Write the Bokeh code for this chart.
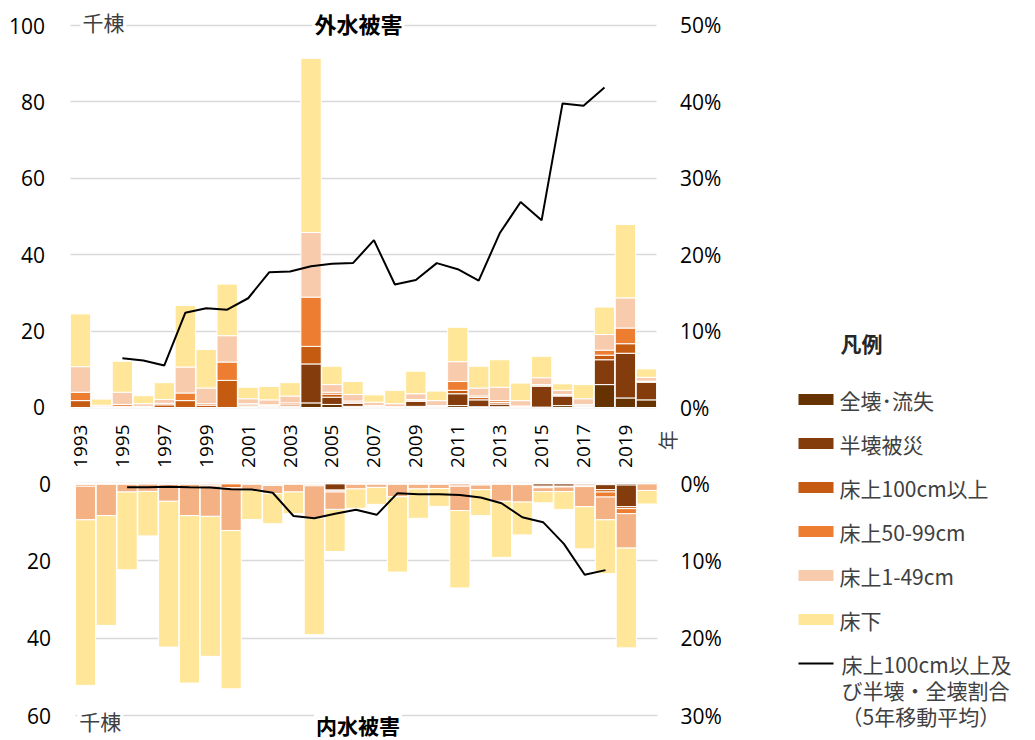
from math import pi
from bokeh.plotting import figure
from bokeh.models import (Range1d, LinearAxis, FixedTicker, PrintfTickFormatter,
                          Label, ColumnDataSource)
from bokeh.layouts import row, column
from bokeh.embed import file_html
from bokeh.resources import INLINE
from bokeh.core.properties import value

# ---------------- data ----------------
years = list(range(1993, 2021))
year_ticks = list(range(1993, 2021, 2))
keys = ["zenkai", "hankai", "f100", "f50", "f1", "yukashita"]
categories = ["全壊･流失", "半壊被災", "床上100cm以上", "床上50-99cm", "床上1-49cm", "床下"]
line_label = ["床上100cm以上及", "び半壊・全壊割合", "（5年移動平均）"]
legend_title = "凡例"
top_title = "外水被害"
bottom_title = "内水被害"
unit_label = "千棟"
x_title = "年"

# 外水被害 (thousand buildings)
ext_zenkai = [0, 0, 0, 0, 0, 0, 0, 0, 0.2, 0.1, 0.1, 1.2, 0.8, 0.3, 0.1, 0.05, 0.3, 0.1,
              0.5, 0.2, 0.2, 0.1, 0.1, 0.5, 0.2, 6.0, 2.5, 2.0]
ext_hankai = [0, 0, 0, 0, 0, 0, 0, 0, 0.2, 0.2, 0.2, 10.2, 1.9, 0.8, 0.1, 0.05, 1.3, 0.2,
              3.1, 1.8, 0.7, 0.1, 5.5, 2.5, 0.2, 6.5, 11.7, 4.6]
ext_f100 = [1.8, 0.1, 0.3, 0.2, 0.7, 1.8, 0.6, 7.1, 0.3, 0.2, 0.4, 4.6, 0.8, 0.3, 0.2, 0.05,
            0.3, 0.1, 0.9, 0.6, 0.4, 0.1, 0.1, 0.2, 0.2, 1.2, 2.5, 0.2]
ext_f50 = [2.2, 0.1, 0.5, 0.1, 0.4, 2.0, 0.4, 4.8, 0.3, 0.2, 0.5, 12.9, 0.5, 0.3, 0.1, 0.05,
           0.2, 0.1, 2.3, 0.4, 0.5, 0.1, 0.3, 0.2, 0.2, 1.3, 4.1, 0.1]
ext_f1 = [6.7, 0.4, 3.2, 0.7, 1.0, 6.8, 4.1, 6.9, 1.3, 1.3, 1.8, 16.9, 2.0, 1.7, 0.9, 0.8,
          1.5, 1.3, 5.2, 2.1, 3.5, 1.4, 1.8, 1.1, 1.5, 4.1, 7.9, 1.0]
ext_yukashita = [13.8, 1.6, 8.1, 2.1, 4.4, 16.1, 10.1, 13.5, 3.0, 3.5, 3.5, 45.6, 4.8, 3.4,
                 1.9, 3.5, 5.9, 2.5, 9.0, 5.7, 7.2, 4.6, 5.6, 1.7, 3.7, 7.2, 19.2, 2.2]

# 内水被害 (thousand buildings)
int_zenkai = [0, 0, 0, 0, 0, 0, 0, 0, 0, 0, 0, 0, 0.1, 0, 0, 0, 0, 0, 0, 0, 0, 0, 0.1, 0.1,
              0.1, 0.3, 0.4, 0]
int_hankai = [0, 0, 0, 0, 0, 0, 0, 0, 0, 0, 0, 0, 1.6, 0, 0, 0, 0, 0, 0, 0, 0, 0, 0.6, 0.6,
              0.3, 1.3, 5.6, 0]
int_f100 = [0.3, 0.1, 0.1, 0.1, 0.1, 0.1, 0.2, 0.1, 0.1, 0.3, 0.1, 0.3, 0.2, 0.1, 0.1, 0.1,
            0.1, 0.1, 0.4, 0.2, 0.1, 0.2, 0.2, 0.1, 0.2, 0.6, 0.5, 0.05]
int_f50 = [0.4, 0.1, 0.1, 0.05, 0.1, 0.1, 0.4, 1.0, 0.1, 0.2, 0.1, 0.3, 0.3, 0.1, 0.1, 0.1,
           0.1, 0.1, 0.3, 0.2, 0.1, 0.1, 0.2, 0.1, 0.2, 1.3, 1.3, 0.05]
int_f1 = [8.7, 8.1, 2.0, 1.9, 4.4, 8.1, 7.9, 11.1, 1.5, 2.1, 2.0, 8.3, 4.5, 1.2, 0.8, 3.2,
          1.2, 1.1, 6.3, 1.2, 4.4, 4.5, 1.0, 1.2, 5.2, 5.9, 8.9, 1.7]
int_yukashita = [42.8, 28.4, 20.1, 11.5, 37.7, 43.3, 36.2, 40.9, 7.6, 7.8, 5.6, 30.2, 10.9,
                 5.0, 4.4, 19.5, 7.6, 4.6, 20.0, 6.7, 14.5, 8.5, 2.9, 4.6, 10.9, 13.9, 25.8, 3.5]

# 床上100cm以上及び半壊・全壊割合（5年移動平均） %
ratio_years = list(range(1995, 2019))
ext_ratio = [6.45, 6.15, 5.5, 12.4, 13.0, 12.8, 14.3, 17.7, 17.8, 18.5, 18.8, 18.9, 21.9,
             16.1, 16.7, 18.9, 18.1, 16.6, 22.8, 26.9, 24.5, 39.8, 39.5, 41.9]
int_ratio = [0.47, 0.48, 0.43, 0.48, 0.52, 0.73, 0.78, 1.2, 4.2, 4.5, 3.9, 3.4, 4.05, 1.25,
             1.4, 1.4, 1.5, 1.8, 2.55, 4.36, 5.0, 7.8, 11.8, 11.2]

left_ticks_top = [0, 20, 40, 60, 80, 100]
right_ticks_top = [0, 10, 20, 30, 40, 50]
left_ticks_bot = [0, 20, 40, 60]
right_ticks_bot = [0, 10, 20, 30]

colors_top = ["#663300", "#843C0C", "#C55A11", "#ED7D31", "#F8CBAD", "#FFE699"]
colors_bot = ["#663300", "#843C0C", "#C55A11", "#ED7D31", "#F4B183", "#FFE699"]

NUM = "Open Sans"
JP = "Noto Sans CJK JP"
GRID = "#D9D9D9"
FIRST, LAST = years[0] - 0.5, years[-1] + 0.5


def style_axis(ax, standoff, size="21px"):
    ax.axis_line_color = None
    ax.major_tick_line_color = None
    ax.minor_tick_line_color = None
    ax.major_label_standoff = standoff
    ax.major_label_text_font = NUM
    ax.major_label_text_font_size = size
    ax.major_label_text_color = "#000000"


def jp_label(x, y, text, size="21px", bold=False, color="#404040", align="left",
             bg=True, angle=0):
    kw = dict(x=x, y=y, text=text, text_font=JP, text_font_size=size,
              text_font_style="bold" if bold else "normal", text_color=color,
              text_baseline="middle", text_align=align, angle=angle)
    if bg:
        kw.update(background_fill_color="white", padding=2)
    return Label(**kw)


# ---------------- top panel (外水被害) ----------------
src_top = ColumnDataSource(dict(year=years, zenkai=ext_zenkai, hankai=ext_hankai,
                                f100=ext_f100, f50=ext_f50, f1=ext_f1,
                                yukashita=ext_yukashita))
top = figure(frame_width=725, frame_height=467, x_range=Range1d(1989.184, 2023.774),
             y_range=Range1d(-15.707, 106.545), output_backend="svg",
             toolbar_location=None, min_border=0)
top.outline_line_color = None
top.extra_y_ranges = {"pct": Range1d(-7.853, 53.272)}
top.vbar_stack(keys, x="year", width=0.97, fill_color=colors_top, line_color="white",
               line_width=1, source=src_top)
top.line(ratio_years, ext_ratio, y_range_name="pct", line_color="black", line_width=2)

top.ygrid.ticker = FixedTicker(ticks=left_ticks_top)
top.ygrid.grid_line_color = GRID
top.ygrid.grid_line_width = 1.5
top.ygrid.cross_bounds = (FIRST, LAST)
top.xgrid.grid_line_color = None

top.yaxis.ticker = FixedTicker(ticks=left_ticks_top)
top.yaxis.fixed_location = FIRST
style_axis(top.yaxis[0], 19)
top.xaxis.ticker = FixedTicker(ticks=year_ticks)
top.xaxis.fixed_location = 0
top.xaxis.major_label_orientation = pi / 2
style_axis(top.xaxis[0], 11, "19px")
rax = LinearAxis(y_range_name="pct", ticker=FixedTicker(ticks=right_ticks_top),
                 formatter=PrintfTickFormatter(format="%d%%"), fixed_location=LAST)
style_axis(rax, 17)
top.add_layout(rax, "right")

top.add_layout(jp_label(1993.0, 101.0, unit_label))
top.add_layout(jp_label(2006.26, 100.6, top_title, size="22px", bold=True,
                        color="#000000", align="center"))
top.add_layout(jp_label(2021.0, -8.6, x_title, size="20px", align="center", bg=False,
                        angle=pi / 2))

# ---------------- bottom panel (内水被害) ----------------
src_bot = ColumnDataSource(dict(year=years, zenkai=int_zenkai, hankai=int_hankai,
                                f100=int_f100, f50=int_f50, f1=int_f1,
                                yukashita=int_yukashita))
bot = figure(frame_width=725, frame_height=273, x_range=Range1d(1988.913, 2023.769),
             y_range=Range1d(66.46, -4.138), output_backend="svg",
             toolbar_location=None, min_border=0, x_axis_location=None)
bot.outline_line_color = None
bot.extra_y_ranges = {"pct": Range1d(33.23, -2.069)}
bot.vbar_stack(keys, x="year", width=0.97, fill_color=colors_bot, line_color="white",
               line_width=1, source=src_bot)
bot.line(ratio_years, int_ratio, y_range_name="pct", line_color="black", line_width=2)

bot.ygrid.ticker = FixedTicker(ticks=left_ticks_bot)
bot.ygrid.grid_line_color = GRID
bot.ygrid.grid_line_width = 1.5
bot.ygrid.cross_bounds = (FIRST, LAST)
bot.xgrid.grid_line_color = None
bot.yaxis.ticker = FixedTicker(ticks=left_ticks_bot)
bot.yaxis.fixed_location = FIRST
style_axis(bot.yaxis[0], 18)
rax2 = LinearAxis(y_range_name="pct", ticker=FixedTicker(ticks=right_ticks_bot),
                  formatter=PrintfTickFormatter(format="%d%%"), fixed_location=LAST)
style_axis(rax2, 17)
bot.add_layout(rax2, "right")
bot.add_layout(jp_label(1992.6, 61.4, unit_label))
bot.add_layout(jp_label(2006.1, 62.5, bottom_title, size="21px", bold=True,
                        color="#000000", align="center"))

# ---------------- legend panel ----------------
LW, LH = 305, 740
lg = figure(width=LW, height=LH, x_range=Range1d(0, LW), y_range=Range1d(LH, 0),
            output_backend="svg", toolbar_location=None, x_axis_location=None,
            y_axis_location=None, min_border=0)
lg.outline_line_color = None
lg.grid.visible = False
lg.text(x=[115], y=[342], text=[legend_title], text_font=value(JP),
        text_font_size="21px", text_font_style="bold", text_color="#262626",
        text_baseline="middle")
sw_x = 90.5
txt_x = 114
row_y = [399 + 44 * i for i in range(len(categories))]
lg.rect(x=[sw_x] * len(categories), y=row_y, width=35, height=11,
        fill_color=colors_top, line_color=None)
lg.text(x=[txt_x] * len(categories), y=row_y, text=categories, text_font=value(JP),
        text_font_size="21px", text_color="#404040", text_baseline="middle")
line_y = 399 + 44 * len(categories)
lg.segment(x0=[73], y0=[line_y], x1=[108], y1=[line_y], line_color="black", line_width=2)
lg.text(x=[txt_x + 2] * len(line_label),
        y=[line_y + 26 * i for i in range(len(line_label))], text=line_label,
        text_font=value(JP), text_font_size="21px", text_color="#404040",
        text_baseline="middle")

layout = row(column(top, bot), lg)
open("out.html", "w").write(file_html(layout, INLINE))
